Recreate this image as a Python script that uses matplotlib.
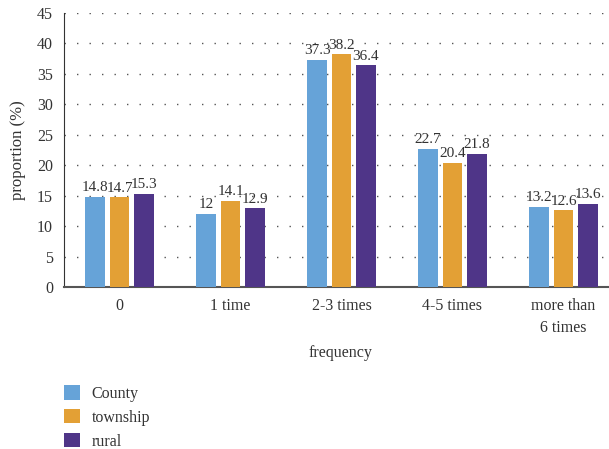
import matplotlib
matplotlib.use("Agg")
import matplotlib.pyplot as plt
import numpy as np
from matplotlib.patches import Patch

plt.rcParams['font.family'] = ['Liberation Serif', 'DejaVu Serif']

categories = ["0", "1 time", "2-3 times", "4-5 times", "more than\n6 times"]
county = [14.8, 12, 37.3, 22.7, 13.2]
township = [14.7, 14.1, 38.2, 20.4, 12.6]
rural = [15.3, 12.9, 36.4, 21.8, 13.6]
series_names = ["County", "township", "rural"]
colors = ["#66A3D8", "#E3A035", "#4F3588"]

W, H = 609, 449
fig = plt.figure(figsize=(W/100, H/100), dpi=100)
ax = fig.add_axes([64/W, 1-287/H, 555/W, 274/H])

x = np.arange(len(categories))
bw = 0.18
off = 0.22
for i, (vals, c) in enumerate(zip([county, township, rural], colors)):
    bars = ax.bar(x + (i-1)*off, vals, width=bw, color=c, zorder=3)
    ax.bar_label(bars, labels=[f"{v:g}" for v in vals], padding=2, fontsize=11, color="#333333")

ax.set_xlim(-0.5, 4.5)
ax.set_ylim(0, 45)
ax.set_yticks(np.arange(0, 46, 5))
ax.set_xticks(x)
ax.set_xticklabels(categories, fontsize=11.5, color="#333333", linespacing=1.5)
ax.tick_params(axis='y', labelsize=11.5, labelcolor="#333333", length=0, pad=8)
ax.tick_params(axis='x', length=0, pad=8)
ax.yaxis.grid(True, linestyle=(0, (1, 8)), color="#555555", linewidth=1)
ax.set_axisbelow(True)
for s in ["top", "right"]:
    ax.spines[s].set_visible(False)
ax.spines["left"].set_color("#333333")
ax.spines["bottom"].set_color("#555555")
ax.spines["bottom"].set_linewidth(1.5)
ax.set_ylabel("proportion (%)", fontsize=12, color="#333333", labelpad=8)
fig.text(340/W, 1-353/H, "frequency", fontsize=11.5, color="#333333", ha="center", va="center")

handles = [Patch(facecolor=c) for c in colors]
fig.legend(handles, series_names, loc="upper left", bbox_to_anchor=(58/W, 1-379/H),
           frameon=False, fontsize=11.5, handlelength=1.0, handleheight=1.0,
           labelspacing=0.45, handletextpad=0.7, labelcolor="#333333",
           borderaxespad=0, borderpad=0.4)

fig.savefig("out.png", dpi=100)
